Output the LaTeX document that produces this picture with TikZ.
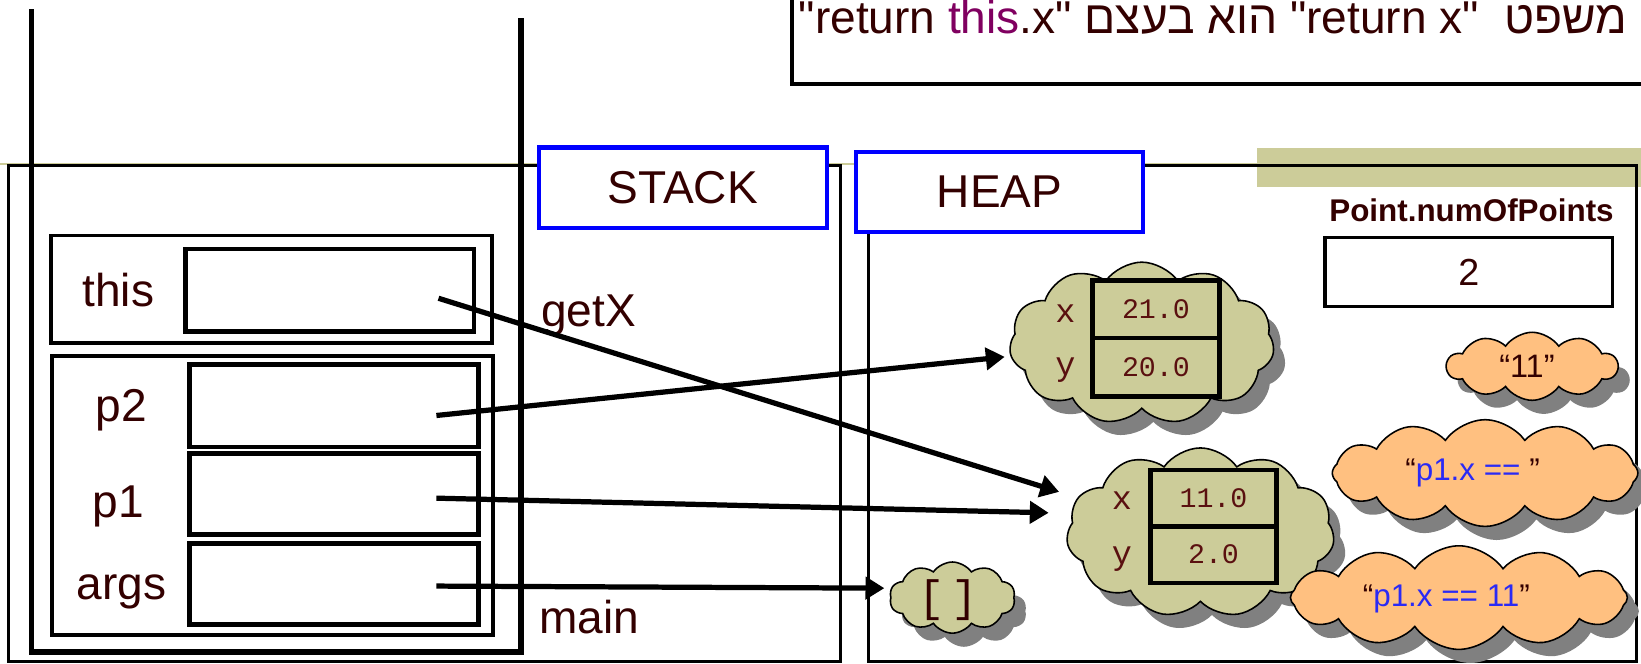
\documentclass[tikz,border=0pt]{standalone}
\usepackage{fontspec}
\setmainfont{Liberation Sans}
\newfontfamily\hebfont[Script=Hebrew]{Liberation Sans}
\newfontfamily\cournew{Liberation Mono}
\TeXXeTstate=1
\usetikzlibrary{shapes.symbols,shadows,arrows.meta}
\definecolor{txt}{HTML}{330000}
\definecolor{olivec}{HTML}{CCCC99}
\definecolor{orng}{HTML}{FFC080}
\definecolor{shgray}{HTML}{808080}
\definecolor{thiscol}{HTML}{800060}
\definecolor{bluetxt}{HTML}{2A2AF5}
\definecolor{valcol}{HTML}{5A1010}
\newcommand\setfs[1]{\fontsize{#1}{#1}\selectfont}
\tikzset{
  frame/.style={draw=black, line width=3.5pt, inner sep=0pt, rectangle},
  slot/.style={draw=black, line width=4.5pt, fill=white, inner sep=0pt, rectangle},
  titlebox/.style={draw=blue, line width=4pt, fill=white, text=txt, font=\setfs{44}, inner sep=0pt},
  lbl/.style={text=txt, font=\setfs{44}, inner sep=0pt},
  ptr/.style={line width=5pt, -{Triangle[length=18pt,width=21pt]}},
  objcloud/.style={cloud, cloud puffs=11, cloud puff arc=110, draw=black, line width=1.5pt, fill=olivec,
     drop shadow={shadow xshift=11pt, shadow yshift=-13pt, fill=shgray, opacity=1}, inner sep=0pt},
  strcloud/.style={cloud, cloud puffs=12, cloud puff arc=110, draw=black, line width=1.5pt, fill=orng,
     drop shadow={shadow xshift=11pt, shadow yshift=-13pt, fill=shgray, opacity=1}, inner sep=0pt},
  field/.style={draw=black, line width=4.5pt, fill=olivec, minimum width=121pt, minimum height=55pt,
     inner sep=0pt, font=\cournew\setfs{27}, text=valcol},
  fname/.style={font=\cournew\setfs{32}, text=valcol, inner sep=0pt},
  strtxt/.style={font=\setfs{30}, text=bluetxt, inner sep=0pt},
  panel/.style={draw=black, line width=3pt}
}
\begin{document}
\begin{tikzpicture}[x=1pt,y=-1pt]
\useasboundingbox (0,0) rectangle (1568,634.4);
% decorative olive lines
\draw[olivec, line width=1.5pt] (0,156.5) -- (1201,156.5);
\fill[olivec] (1201,141) rectangle (1570,179);
% top note box
\draw[line width=4pt] (757,-10) -- (757,80) -- (1600,80);
\node[anchor=base west, inner sep=0pt, text=txt, font=\hebfont\setfs{44}] (note) at (763,32)
  {\beginR משפט \ \beginL"return x"\endL{} הוא בעצם \beginL"return \textcolor{thiscol}{this}.x"\endL\endR};
% panels
\draw[panel] (8,158) rectangle (803,632);
\draw[panel] (830,158) rectangle (1564,632);
\node[titlebox, minimum width=275pt, minimum height=77pt] (stack) at (652.5,179.5) {STACK};
\node[titlebox, minimum width=274pt, minimum height=77pt] (heap) at (955,183.5) {HEAP};
% thick stack U
\draw[line width=5.5pt, line join=miter] (30,9) -- (30,623) -- (498,623) -- (498,17);
% frames
\node[frame, minimum width=421pt, minimum height=103pt] (getxframe) at (259.5,276.5) {};
\node[frame, minimum width=421pt, minimum height=267pt] (mainframe) at (260.5,473.5) {};
\node[slot, minimum width=276pt, minimum height=79pt] (thisbox) at (315,277.5) {};
\node[slot, minimum width=276pt, minimum height=79pt] (p2box) at (319,387.5) {};
\node[slot, minimum width=276pt, minimum height=78pt] (p1box) at (319,472) {};
\node[slot, minimum width=276pt, minimum height=78pt] (argsbox) at (319,558) {};
\node[lbl, anchor=base] (thislbl) at (113,293) {this};
\node[lbl, anchor=base] (p2lbl) at (116,403) {p2};
\node[lbl, anchor=base] (p1lbl) at (113,494) {p1};
\node[lbl, anchor=base] (argslbl) at (116,573) {args};
\node[lbl, anchor=base west] (getx) at (517,312) {getX};
\node[lbl, anchor=base west] (mainlbl) at (515,605) {main};
% static field
\node[font=\bfseries\setfs{30}, text=txt, inner sep=0pt, anchor=base] (numlbl) at (1406,212) {Point.numOfPoints};
\node[draw=black, line width=3pt, minimum width=275pt, minimum height=66pt, inner sep=0pt,
  font=\setfs{36}, text=txt] (numbox) at (1403.5,260) {2};
% object clouds
\node[objcloud, minimum width=253pt, minimum height=155pt] (cloudA) at (1091,328) {};
\node[field] (ax) at (1104.5,295.5) {21.0};
\node[field, minimum height=56pt] (ay) at (1104.5,351) {20.0};
\node[fname] (axl) at (1018,300) {x};
\node[fname] (ayl) at (1018,354) {y};
\node[objcloud, minimum width=256pt, minimum height=162pt] (cloudB) at (1147,509) {};
\node[field, minimum height=54pt] (bx) at (1159.5,476) {11.0};
\node[field, minimum height=54pt] (by) at (1159.5,530) {2.0};
\node[fname] (bxl) at (1072,478) {x};
\node[fname] (byl) at (1072,534) {y};
\node[objcloud, cloud puffs=10, minimum width=120pt, minimum height=68pt] (cloudC) at (910,571) {};
\node[font=\cournew\setfs{42}, text=txt, inner sep=0pt] (arr) at (906,573) {[\kern-9pt\ \kern-9pt]};
% string clouds
\node[strcloud, cloud puffs=10, minimum width=163pt, minimum height=65pt] (s11) at (1464,350) {};
\node[font=\setfs{31}, text=txt, inner sep=0pt] (s11t) at (1459,350) {“11”};
\node[strcloud, minimum width=292pt, minimum height=102pt] (sE) at (1419,452) {};
\node[strtxt] (sEt) at (1407,452) {\textcolor{txt}{“}p1.x == \textcolor{txt}{”}};
\node[strcloud, minimum width=322pt, minimum height=99pt] (sF) at (1394,571) {};
\node[strtxt] (sFt) at (1382,572) {\textcolor{txt}{“}p1.x == 11\textcolor{txt}{”}};
% pointers
\coordinate (thisptr) at (419,285);
\coordinate (p2ptr) at (417,397);
\coordinate (p1ptr) at (417,476);
\coordinate (argsptr) at (417,560);
\coordinate (tipA) at (960,341);
\coordinate (tipB1) at (1012,470);
\coordinate (tipB2) at (1002,490);
\coordinate (tipC) at (845,562);
\draw[ptr] (thisptr) -- (tipB1);
\draw[ptr] (p2ptr) -- (tipA);
\draw[ptr] (p1ptr) -- (tipB2);
\draw[ptr] (argsptr) -- (tipC);
\end{tikzpicture}
\end{document}
